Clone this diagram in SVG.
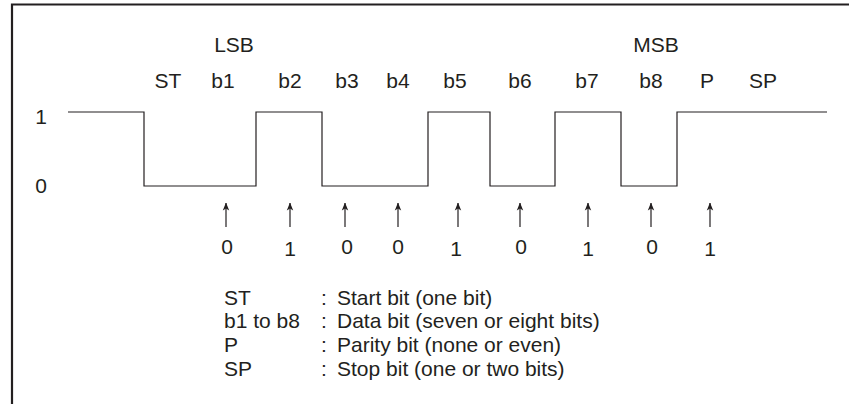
<svg xmlns="http://www.w3.org/2000/svg" width="849" height="404" viewBox="0 0 849 404">
<style>
text{font-family:"Liberation Sans",Arial,sans-serif;font-size:21px;fill:#231f20}
.c{text-anchor:middle}
.w{fill:none;stroke:#231f20;stroke-width:1.2}
.a{stroke:#231f20;stroke-width:1.2}
</style>
<defs>
<marker id="ah" viewBox="0 0 8 8" refX="7.5" refY="4" markerWidth="8" markerHeight="8" markerUnits="userSpaceOnUse" orient="auto">
<path d="M0,0.8 L8,4 L0,7.2 L2,4 Z" fill="#231f20"/>
</marker>
</defs>
<rect width="849" height="404" fill="#fff"/>
<g id="frame"><path d="M12,404 V4.5 H849" fill="none" stroke="#231f20" stroke-width="2.2"/></g>
<g id="headers">
<text class="c" x="234" y="52">LSB</text>
<text class="c" x="656" y="52">MSB</text>
</g>
<g id="bit-labels">
<text class="c" x="168" y="88">ST</text>
<text class="c" x="223" y="88">b1</text>
<text class="c" x="290" y="88">b2</text>
<text class="c" x="347" y="88">b3</text>
<text class="c" x="398" y="88">b4</text>
<text class="c" x="455" y="88">b5</text>
<text class="c" x="520" y="88">b6</text>
<text class="c" x="587" y="88">b7</text>
<text class="c" x="651" y="88">b8</text>
<text class="c" x="707" y="88">P</text>
<text class="c" x="763" y="88">SP</text>
</g>
<g id="levels">
<text class="c" x="41" y="124">1</text>
<text class="c" x="41" y="193">0</text>
</g>
<g id="waveform">
<path class="w" d="M68,112 H144 V186 H256 V112 H322 V186 H428 V112 H490 V186 H555 V112 H621 V186 H677 V112 H827"/>
</g>
<g id="connectors">
<line class="a" x1="226" y1="227" x2="226" y2="203" marker-end="url(#ah)"/>
<line class="a" x1="290" y1="227" x2="290" y2="203" marker-end="url(#ah)"/>
<line class="a" x1="345" y1="227" x2="345" y2="203" marker-end="url(#ah)"/>
<line class="a" x1="398" y1="227" x2="398" y2="203" marker-end="url(#ah)"/>
<line class="a" x1="458" y1="227" x2="458" y2="203" marker-end="url(#ah)"/>
<line class="a" x1="520" y1="227" x2="520" y2="203" marker-end="url(#ah)"/>
<line class="a" x1="588" y1="227" x2="588" y2="203" marker-end="url(#ah)"/>
<line class="a" x1="651" y1="227" x2="651" y2="203" marker-end="url(#ah)"/>
<line class="a" x1="710" y1="227" x2="710" y2="203" marker-end="url(#ah)"/>
</g>
<g id="values">
<text class="c" x="227" y="254">0</text>
<text class="c" x="290" y="256">1</text>
<text class="c" x="347" y="254">0</text>
<text class="c" x="398" y="254">0</text>
<text class="c" x="456" y="256">1</text>
<text class="c" x="521" y="254">0</text>
<text class="c" x="588" y="256">1</text>
<text class="c" x="652" y="254">0</text>
<text class="c" x="710" y="256">1</text>
</g>
<g id="legend">
<text x="224" y="305">ST</text><text x="321" y="305">:</text><text x="337" y="305">Start bit (one bit)</text>
<text x="224" y="328">b1 to b8</text><text x="321" y="328">:</text><text x="337" y="328">Data bit (seven or eight bits)</text>
<text x="224" y="352">P</text><text x="321" y="352">:</text><text x="337" y="352">Parity bit (none or even)</text>
<text x="224" y="376">SP</text><text x="321" y="376">:</text><text x="337" y="376">Stop bit (one or two bits)</text>
</g>
</svg>
